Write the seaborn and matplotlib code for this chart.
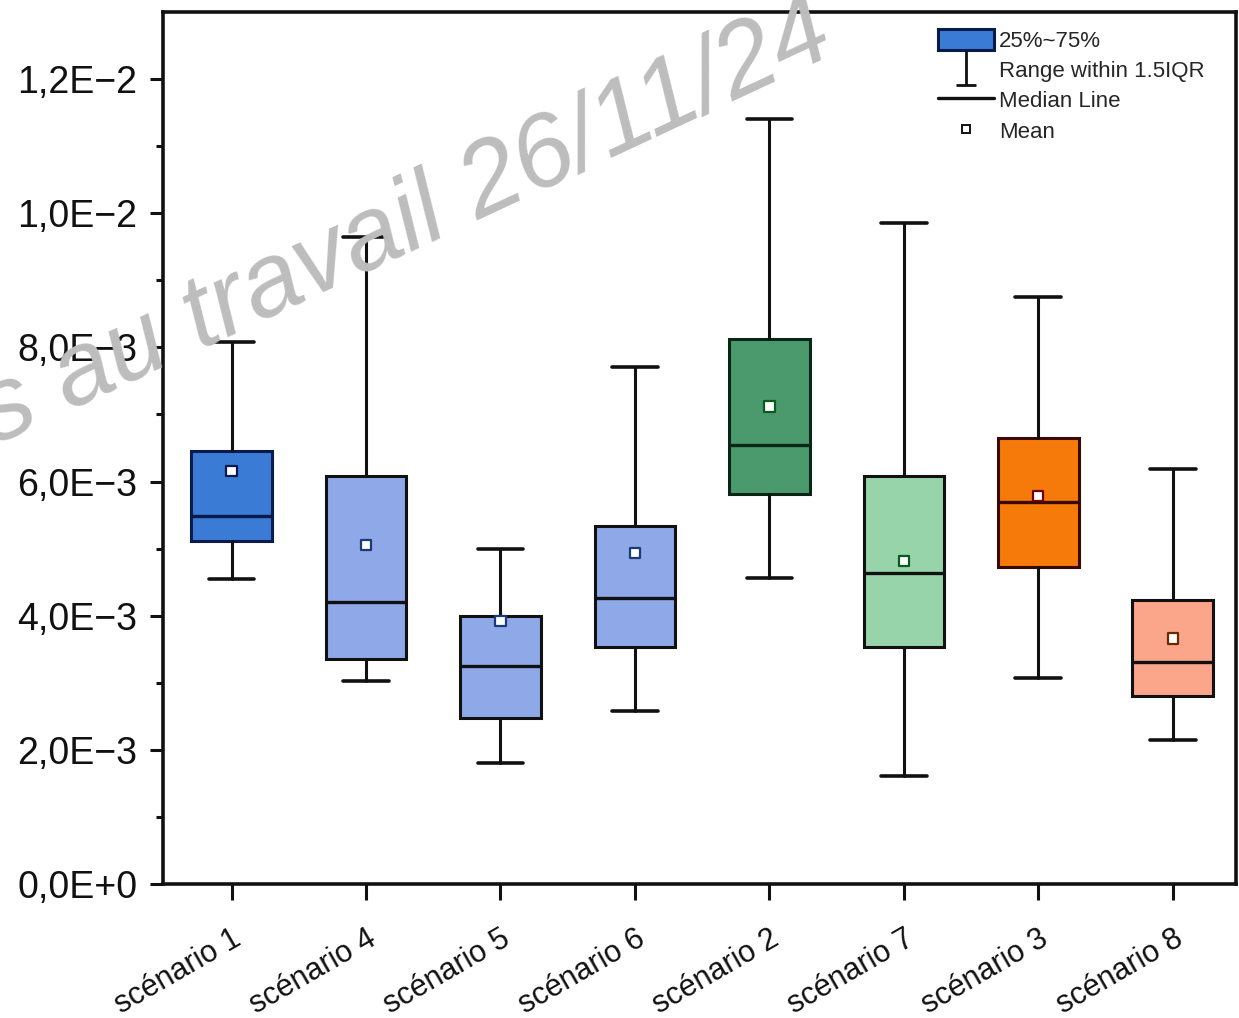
import matplotlib
matplotlib.use('Agg')
import matplotlib.pyplot as plt
import seaborn as sns
from matplotlib.lines import Line2D
from matplotlib.patches import Patch
from matplotlib.path import Path
from matplotlib.ticker import FixedLocator, FuncFormatter
from matplotlib.transforms import ScaledTranslation
import math

# values
scenarios = ["scénario 1", "scénario 4", "scénario 5", "scénario 6",
             "scénario 2", "scénario 7", "scénario 3", "scénario 8"]
whisker_low = [4.55e-3, 3.02e-3, 1.80e-3, 2.58e-3, 4.56e-3, 1.61e-3, 3.07e-3, 2.14e-3]
q1 = [5.11e-3, 3.35e-3, 2.47e-3, 3.53e-3, 5.81e-3, 3.53e-3, 4.72e-3, 2.81e-3]
medians = [5.48e-3, 4.21e-3, 3.25e-3, 4.27e-3, 6.55e-3, 4.64e-3, 5.70e-3, 3.31e-3]
q3 = [6.45e-3, 6.09e-3, 4.00e-3, 5.33e-3, 8.13e-3, 6.09e-3, 6.65e-3, 4.23e-3]
whisker_high = [8.08e-3, 9.65e-3, 5.00e-3, 7.71e-3, 11.4e-3, 9.86e-3, 8.75e-3, 6.18e-3]
means = [6.16e-3, 5.05e-3, 3.92e-3, 4.93e-3, 7.12e-3, 4.82e-3, 5.78e-3, 3.66e-3]

fills = ["#3a7bd5", "#8fa8e8", "#8fa8e8", "#8fa8e8",
         "#4a9a6e", "#98d4aa", "#f57a0a", "#fba58a"]
edges = ["#0a1a4a", "#111111", "#111111", "#111111",
         "#0b2614", "#111111", "#3a0a00", "#111111"]
mean_edges = ["#0a1a4a", "#1a3a7a", "#1a3a7a", "#1a3a7a",
              "#0a5a20", "#0a5a20", "#700000", "#6a2a00"]

sns.set_theme(style="ticks")
plt.rcParams['font.family'] = ['Liberation Sans', 'DejaVu Sans']

fig = plt.figure(figsize=(12.39, 10.18), dpi=100)
ax = fig.add_axes([163 / 1239, 1 - 884 / 1018, (1236 - 163) / 1239, (884 - 12) / 1018])

stats = []
for i in range(len(scenarios)):
    stats.append({"label": scenarios[i], "whislo": whisker_low[i], "q1": q1[i],
                  "med": medians[i], "q3": q3[i], "whishi": whisker_high[i],
                  "mean": means[i], "fliers": []})

positions = list(range(len(scenarios)))
bp = ax.bxp(stats, positions=positions, widths=0.6, patch_artist=True,
            showmeans=False, showfliers=False, capwidths=0.34,
            boxprops=dict(linewidth=2.2),
            whiskerprops=dict(linewidth=2.2, color="#111111"),
            capprops=dict(linewidth=2.6, color="#111111"),
            medianprops=dict(linewidth=2.4))
for i, box in enumerate(bp["boxes"]):
    box.set_facecolor(fills[i])
    box.set_edgecolor(edges[i])
    bp["medians"][i].set_color(edges[i])

# mean markers
sns.scatterplot(x=positions, y=means, ax=ax, marker="s", s=55, color="white",
                edgecolor=mean_edges, linewidth=1.6, zorder=5, legend=False)

ax.set_xlim(-0.51, 7.47)
ax.set_ylim(0, 0.013)
ax.set_xticks(positions)
ax.set_xticklabels(scenarios, rotation=30, ha="right", va="top",
                   rotation_mode="anchor", fontsize=22)
for lab in ax.get_xticklabels():
    lab.set_transform(lab.get_transform() + ScaledTranslation(0.14, 0, fig.dpi_scale_trans))


def sci_comma(v, pos):
    if v == 0:
        return "0,0E+0"
    e = int(math.floor(math.log10(abs(v)) + 1e-9))
    m = v / 10 ** e
    sign = "−" if e < 0 else "+"
    return f"{m:.1f}".replace(".", ",") + "E" + sign + str(abs(e))


ax.yaxis.set_major_locator(FixedLocator([0, 0.002, 0.004, 0.006, 0.008, 0.010, 0.012]))
ax.yaxis.set_minor_locator(FixedLocator([0.001, 0.003, 0.005, 0.007, 0.009, 0.011]))
ax.yaxis.set_major_formatter(FuncFormatter(sci_comma))
ax.tick_params(axis="y", which="major", labelsize=27, length=9.5, width=2.2, pad=9, colors="#111111")
ax.tick_params(axis="y", which="minor", length=5, width=2.2, colors="#111111")
ax.tick_params(axis="x", which="major", length=11.5, width=2.2, pad=17, colors="#111111")
for sp in ax.spines.values():
    sp.set_linewidth(2.6)
    sp.set_color("#111111")
ax.grid(False)

# legend
whisker_marker = Path([(0, 0.5), (0, -0.5), (-0.3, -0.5), (0.3, -0.5)],
                      [Path.MOVETO, Path.LINETO, Path.MOVETO, Path.LINETO])
handles = [
    Patch(facecolor=fills[0], edgecolor="#0a1a4a", linewidth=2.2),
    Line2D([], [], marker=whisker_marker, markersize=24, color="#111111",
           markeredgewidth=2.0, linestyle="None"),
    Line2D([], [], color="#111111", linewidth=2.4),
    Line2D([], [], marker="s", markersize=6, markerfacecolor="white",
           markeredgecolor="#111111", markeredgewidth=1.4, linestyle="None"),
]
labels = ["25%~75%", "Range within 1.5IQR", "Median Line", "Mean"]
ax.legend(handles, labels, loc="upper left", bbox_to_anchor=(938 / 1239, 1 - 29 / 1018),
          bbox_transform=fig.transFigure, frameon=False, fontsize=16,
          handlelength=2.5, handleheight=1.05, handletextpad=0.25,
          labelspacing=0.33, borderpad=0, borderaxespad=0)

# watermark
fig.text(-0.004, 1 - 445 / 1018, "s au travail 26/11/24", rotation=25,
         rotation_mode="anchor", ha="left", va="baseline", fontsize=75,
         style="italic", color="#bdbdbd", zorder=10)

fig.savefig("out.png", dpi=100)
